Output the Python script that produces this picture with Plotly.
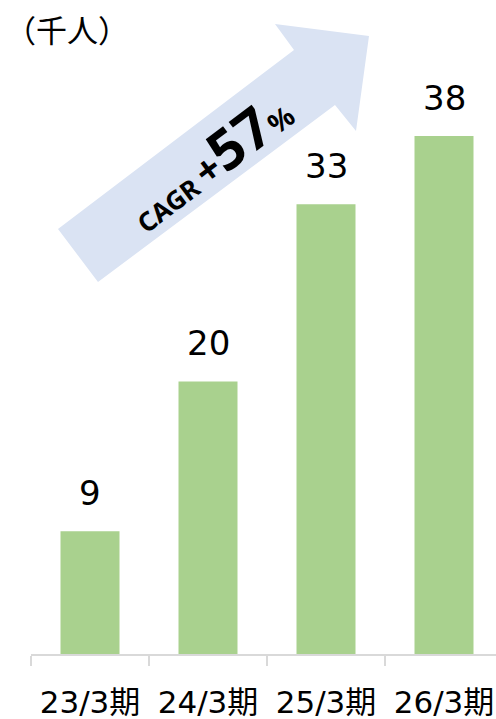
import plotly.graph_objects as go

# Headcount by fiscal period (thousands)
categories = ["23/3期", "24/3期", "25/3期", "26/3期"]
values = [9, 20, 33, 38]
unit_label = "（千人）"

W, H = 496, 719
M_L, M_R, M_T, M_B = 31, 0, 0, 65
PLOT_W = W - M_L - M_R
PLOT_H = H - M_T - M_B
CAT_PX = 118.0  # width of one category slot in pixels
PX_PER_UNIT = 13.63  # vertical pixels per thousand people

BAR_COLOR = "#A9D18E"
ARROW_COLOR = "#DAE3F3"
AXIS_COLOR = "#D9D9D9"
FONT = "DejaVu Sans, Noto Sans CJK JP, sans-serif"


def to_paper(px, py):
    """Convert figure pixel position to paper coordinates."""
    return (px - M_L) / PLOT_W, (H - M_B - py) / PLOT_H


# Growth arrow outline (figure pixels)
arrow_px = [(58, 229), (294, 50), (275, 24), (369, 36),
            (356, 131), (335, 105), (98, 282)]
pts = [to_paper(x, y) for x, y in arrow_px]
arrow_path = "M " + " L ".join(f"{x:.5f},{y:.5f}" for x, y in pts) + " Z"

fig = go.Figure()
fig.add_trace(go.Bar(
    x=categories, y=values, width=0.5,
    marker=dict(color=BAR_COLOR, line=dict(width=0)),
    hoverinfo="skip",
))

annotations = []
for c, v in zip(categories, values):
    annotations.append(dict(
        x=c, y=v, xref="x", yref="y", text=str(v), showarrow=False,
        xanchor="center", yanchor="bottom", yshift=16,
        font=dict(family=FONT, size=34, color="#000000"),
    ))

ux, uy = to_paper(3, 28)
annotations.append(dict(
    x=ux, y=uy, xref="paper", yref="paper", text=unit_label, showarrow=False,
    xanchor="left", yanchor="middle",
    font=dict(family="Noto Sans CJK JP, sans-serif", size=31, color="#000000"),
))

cx, cy = to_paper(208, 160)
annotations.append(dict(
    x=cx, y=cy, xref="paper", yref="paper", showarrow=False,
    text=("<b>CAGR <span style='font-size:40px'>+</span>"
          "<span style='font-size:56px'>57</span>"
          "<span style='font-size:28px'>%</span></b>"),
    textangle=-37, xanchor="center", yanchor="middle",
    font=dict(family="Noto Sans, sans-serif", size=26, color="#000000"),
))

y_max = PLOT_H / PX_PER_UNIT

fig.update_layout(
    width=W, height=H,
    margin=dict(l=M_L, r=M_R, t=M_T, b=M_B, pad=0, autoexpand=False),
    paper_bgcolor="white", plot_bgcolor="white",
    showlegend=False,
    shapes=[dict(type="path", path=arrow_path, xref="paper", yref="paper",
                 fillcolor=ARROW_COLOR, line=dict(width=0), layer="below")],
    annotations=annotations,
    xaxis=dict(
        type="category", range=[-0.5, -0.5 + PLOT_W / CAT_PX],
        automargin=False,
        showline=True, linecolor=AXIS_COLOR, linewidth=1.5,
        ticks="outside", tickson="boundaries", ticklen=10,
        tickcolor=AXIS_COLOR, tickwidth=1.5,
        ticklabelstandoff=20,
        tickfont=dict(family=FONT, size=31, color="#000000"),
        showgrid=False, zeroline=False, fixedrange=True,
    ),
    yaxis=dict(range=[0, y_max], visible=False, showgrid=False,
               zeroline=False, fixedrange=True, automargin=False),
)

fig.write_html("out.html")
